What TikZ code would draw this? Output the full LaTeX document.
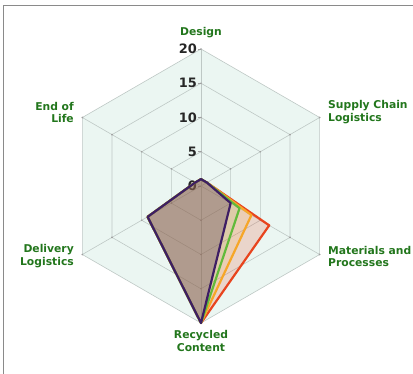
\documentclass[tikz,border=0pt]{standalone}
\usepackage{fontspec}
\setmainfont{DejaVu Sans}
\definecolor{labelgreen}{RGB}{34,118,28}
\definecolor{webgray}{RGB}{190,200,197}
\definecolor{mint}{RGB}{235,246,242}
\definecolor{framegray}{RGB}{138,138,138}
\definecolor{serpurple}{RGB}{62,30,100}
\definecolor{serpurplefill}{RGB}{105,78,100}
\definecolor{sergreen}{RGB}{98,186,58}
\definecolor{serorange}{RGB}{246,166,40}
\definecolor{serred}{RGB}{232,68,30}
\newcommand{\rr}{6.85}

\begin{document}
\begin{tikzpicture}[x=1bp,y=1bp,
    axislabel/.style={font=\fontsize{10.8}{13}\selectfont\bfseries, text=labelgreen, inner sep=0pt},
    ringlabel/.style={font=\fontsize{13}{14}\selectfont\bfseries, text=black!85, inner sep=0pt, anchor=east},
    webline/.style={draw=webgray, line width=0.6bp},
    series/.style n args={3}{draw=#1, fill=#2, fill opacity=#3, line width=2.2bp, line join=round}]
    \useasboundingbox (-201,-188) rectangle (212,186);
    % frame
    \draw[framegray, line width=1.5bp] (-197.5,-188) -- (-197.5,180.5) -- (212,180.5);
    % web
    \fill[mint] (90:20*\rr) \foreach \a in {30,-30,-90,-150,150} {-- (\a:20*\rr)} -- cycle;
    \foreach \v in {5,10,15,20}
        \draw[webline] (90:\v*\rr) \foreach \a in {30,-30,-90,-150,150} {-- (\a:\v*\rr)} -- cycle;
    \foreach \a in {90,30,-30,-90,-150,150} {
        \draw[webline] (0,0) -- (\a:20*\rr);
        \foreach \v in {5,10,15,20}
            \fill[gray!75] (\a:\v*\rr) circle (0.9);
    }
    \foreach \v in {0,5,10,15,20} {
        \node[ringlabel] (ring\v) at (-4,\v*\rr) {\v};
        \draw[gray!75, line width=0.8bp] (ring\v.east) ++(1,0) -- ++(3,0);
    }
    % series
    \foreach \m/\c/\f/\o in {11.5/serred/serred/.18, 8.5/serorange/serorange/.13,
                             6.5/sergreen/sergreen/.1, 5/serpurple/serpurplefill/.38}
        \draw[series={\c}{\f}{\o}] (90:1*\rr) -- (30:1*\rr) -- (-30:\m*\rr) -- (-90:20*\rr)
            -- (-150:9*\rr) -- (150:1*\rr) -- cycle;
    % axis labels
    \node[axislabel] (design) at (0,153) {Design};
    \node[axislabel, anchor=west, align=left] (supply) at (127,73.5) {Supply Chain\\Logistics};
    \node[axislabel, anchor=west, align=left] (materials) at (127,-70.5) {Materials and\\Processes};
    \node[axislabel, align=center] (recycled) at (0,-155) {Recycled\\Content};
    \node[axislabel, anchor=east, align=right] (delivery) at (-127,-70.5) {Delivery\\Logistics};
    \node[axislabel, anchor=east, align=right] (endlife) at (-127,73.5) {End of\\Life};
\end{tikzpicture}
\end{document}
